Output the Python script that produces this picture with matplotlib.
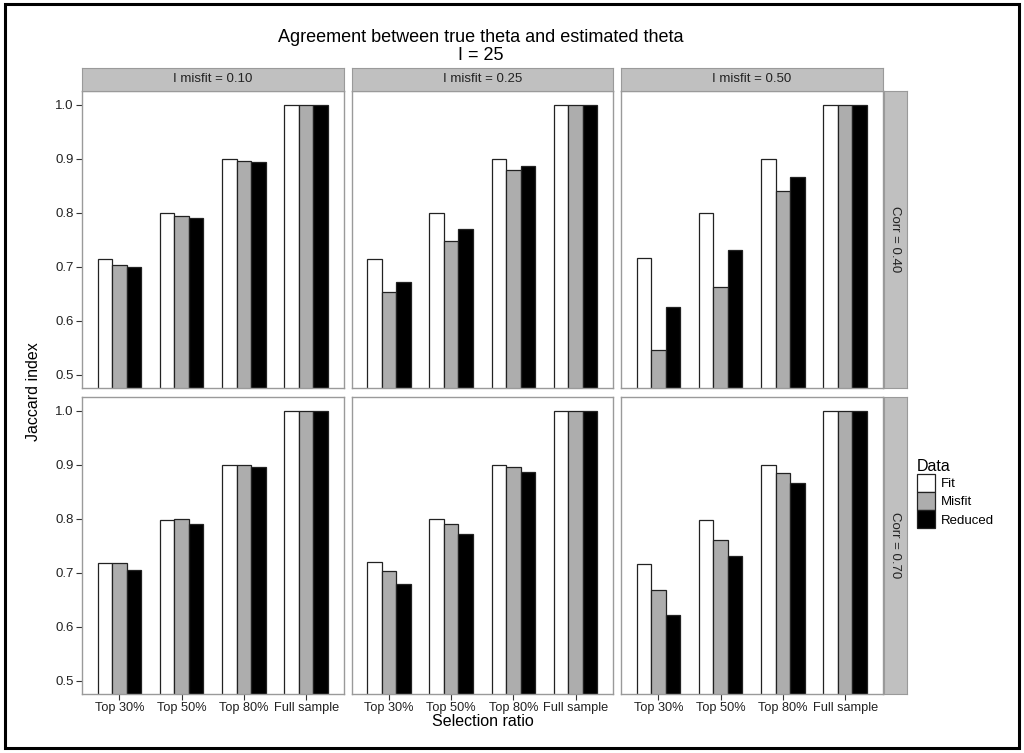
import matplotlib.pyplot as plt
import numpy as np
from matplotlib.patches import Patch, Rectangle

plt.rcParams['font.family'] = ['Liberation Sans', 'DejaVu Sans']

ratios = ['Top 30%', 'Top 50%', 'Top 80%', 'Full sample']
series = ['Fit', 'Misfit', 'Reduced']
misfit_labels = ['I misfit = 0.10', 'I misfit = 0.25', 'I misfit = 0.50']
corr_labels = ['Corr = 0.40', 'Corr = 0.70']

# [misfit panel] -> values per selection ratio
corr40_fit = [[0.713, 0.800, 0.899, 1.0], [0.713, 0.800, 0.900, 1.0], [0.716, 0.800, 0.900, 1.0]]
corr40_misfit = [[0.703, 0.793, 0.896, 1.0], [0.652, 0.747, 0.878, 1.0], [0.545, 0.662, 0.840, 1.0]]
corr40_reduced = [[0.699, 0.789, 0.894, 1.0], [0.672, 0.770, 0.886, 1.0], [0.625, 0.731, 0.866, 1.0]]
corr70_fit = [[0.717, 0.798, 0.900, 1.0], [0.720, 0.800, 0.900, 1.0], [0.715, 0.798, 0.899, 1.0]]
corr70_misfit = [[0.718, 0.800, 0.900, 1.0], [0.703, 0.790, 0.895, 1.0], [0.668, 0.760, 0.884, 1.0]]
corr70_reduced = [[0.705, 0.790, 0.895, 1.0], [0.678, 0.771, 0.887, 1.0], [0.622, 0.730, 0.865, 1.0]]

data = [[corr40_fit, corr40_misfit, corr40_reduced],
        [corr70_fit, corr70_misfit, corr70_reduced]]

colors = ['white', '#ADADAD', 'black']
strip_col = '#C0C0C0'
edge_grey = '#9A9A9A'

W, H = 1024, 753
fig = plt.figure(figsize=(W / 100, H / 100), dpi=100)


def box(x0, y0, w, h):
    # pixel box (top-left origin) -> figure fraction
    return [x0 / W, 1 - (y0 + h) / H, w / W, h / H]


col_x = [82, 351.5, 621]
row_y = [91, 397]
pw, ph = 261.5, 297
x = np.arange(len(ratios))
bw = 0.7 / 3

for r in range(2):
    for c in range(3):
        ax = fig.add_axes(box(col_x[c], row_y[r], pw, ph))
        for s in range(3):
            ax.bar(x + (s - 1) * bw, data[r][s][c], width=bw,
                   color=colors[s], edgecolor='#222222', linewidth=0.9, zorder=2)
        ax.set_xlim(-0.6, 3.6)
        ax.set_ylim(0.475, 1.025)
        ax.set_yticks([0.5, 0.6, 0.7, 0.8, 0.9, 1.0])
        ax.set_xticks(x)
        for sp in ax.spines.values():
            sp.set_color(edge_grey)
            sp.set_linewidth(1.0)
        ax.tick_params(length=4, width=0.8, color='#333333', labelsize=9.5,
                       labelcolor='#222222', pad=2)
        ax.tick_params(axis='x', labelsize=9.2)
        if c == 0:
            ax.set_yticklabels(['0.5', '0.6', '0.7', '0.8', '0.9', '1.0'])
        else:
            ax.tick_params(axis='y', length=0, labelleft=False)
        if r == 1:
            ax.set_xticklabels(ratios)
        else:
            ax.tick_params(axis='x', length=0, labelbottom=False)

        # top strips
        if r == 0:
            sax = fig.add_axes(box(col_x[c], 68, pw, 23))
            sax.set_facecolor(strip_col)
            sax.set_xticks([])
            sax.set_yticks([])
            for sp in sax.spines.values():
                sp.set_color(edge_grey)
            sax.text(0.5, 0.5, misfit_labels[c], ha='center', va='center',
                     fontsize=9.5, color='#222222', transform=sax.transAxes)
    # right strips
    rax = fig.add_axes(box(883.5, row_y[r], 23, ph))
    rax.set_facecolor(strip_col)
    rax.set_xticks([])
    rax.set_yticks([])
    for sp in rax.spines.values():
        sp.set_color(edge_grey)
    rax.text(0.5, 0.5, corr_labels[r], ha='center', va='center', rotation=-90,
             fontsize=9.5, color='#222222', transform=rax.transAxes)

fig.text(481 / W, 1 - 38 / H, 'Agreement between true theta and estimated theta',
         ha='center', va='center', fontsize=13)
fig.text(481 / W, 1 - 55 / H, 'I = 25', ha='center', va='center', fontsize=13)
fig.text(483 / W, 1 - 721 / H, 'Selection ratio', ha='center', va='center', fontsize=11.5)
fig.text(33 / W, 1 - 392 / H, 'Jaccard index', ha='center', va='center',
         rotation=90, fontsize=11.5)

handles = [Patch(facecolor=colors[i], edgecolor='#222222', linewidth=0.9) for i in range(3)]
leg = fig.legend(handles, series, loc='upper left', bbox_to_anchor=(914 / W, 1 - 456 / H),
                 frameon=False, title='Data', fontsize=9.5, title_fontsize=11.5,
                 handlelength=1.4, handleheight=1.75, labelspacing=0.0,
                 handletextpad=0.4, borderaxespad=0, borderpad=0.2)
leg._legend_box.align = 'left'

fig.patches.append(Rectangle((5 / W, 1 - 748 / H), 1014 / W, 744 / H,
                             transform=fig.transFigure, fill=False,
                             edgecolor='black', linewidth=2.2))

fig.savefig('out.png', dpi=100)
